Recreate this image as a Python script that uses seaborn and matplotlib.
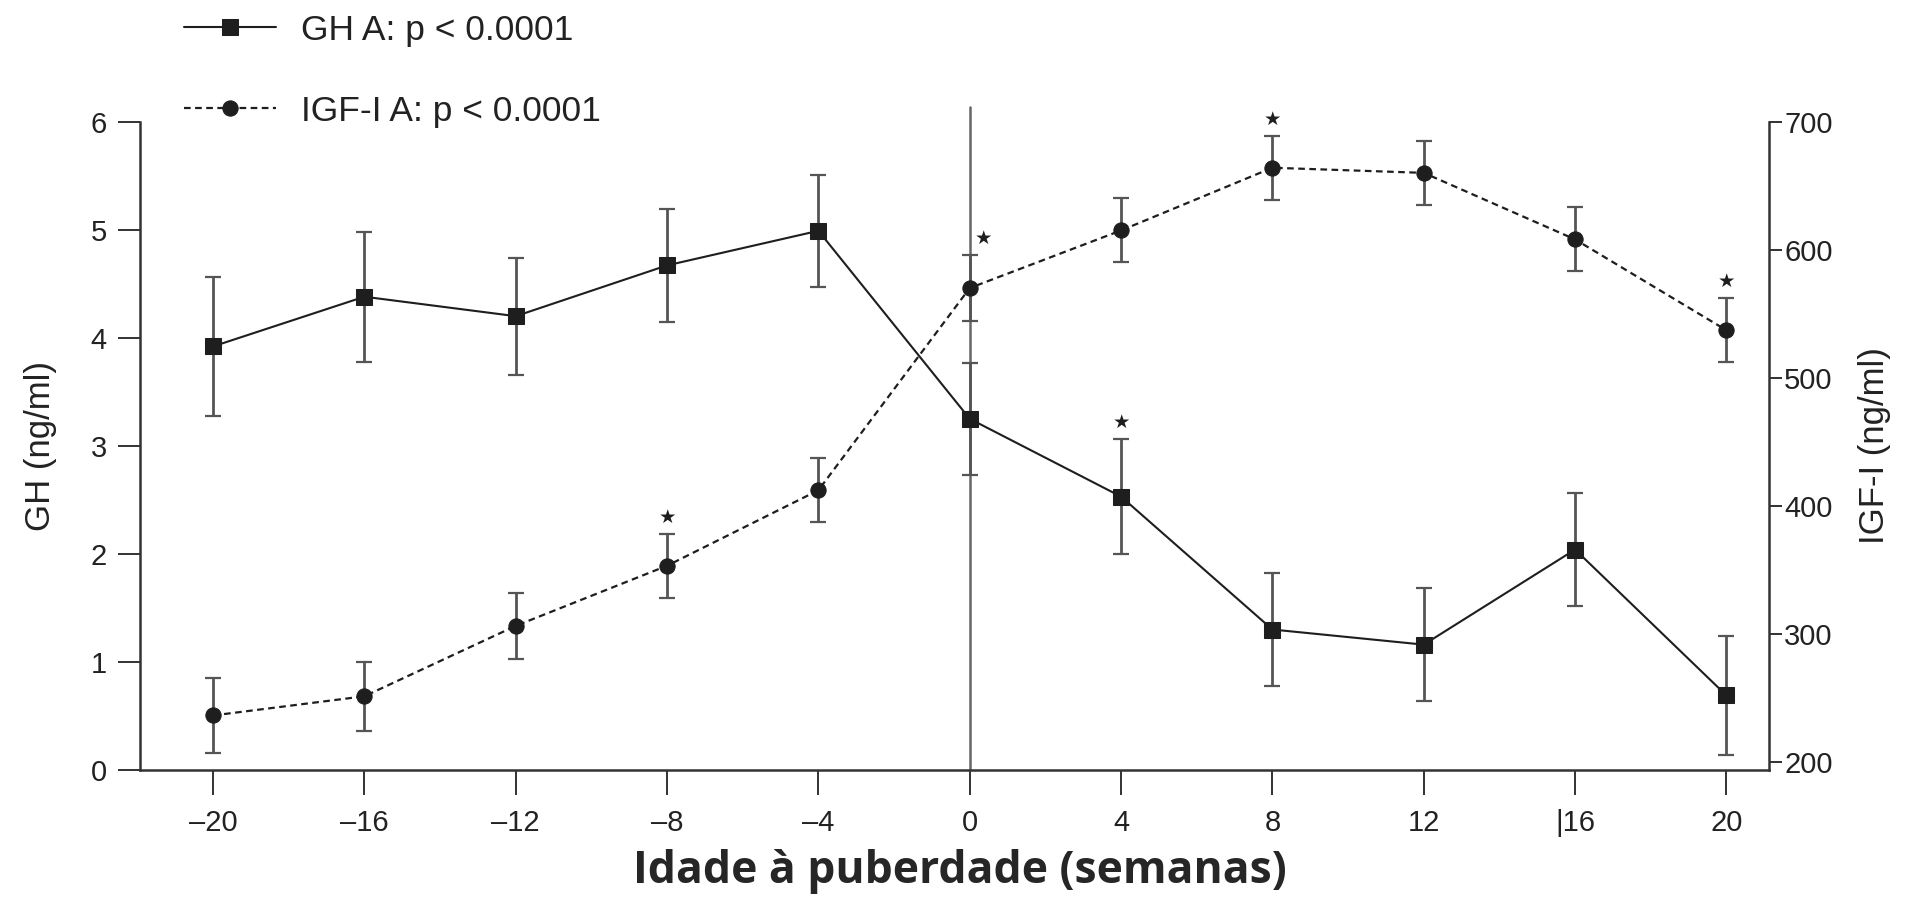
import numpy as np
import pandas as pd
import seaborn as sns
import matplotlib.pyplot as plt

sns.set_style("ticks")
plt.rcParams["font.family"] = ["Liberation Sans", "DejaVu Sans"]

# data
weeks = [-20, -16, -12, -8, -4, 0, 4, 8, 12, 16, 20]
gh_mean = [3.92, 4.38, 4.20, 4.67, 4.99, 3.25, 2.53, 1.30, 1.16, 2.04, 0.69]
gh_err = [0.64, 0.60, 0.54, 0.52, 0.52, 0.52, 0.53, 0.52, 0.52, 0.52, 0.55]
igf_mean = [236, 251, 306, 353, 412, 570, 615, 664, 660, 608, 537]
igf_err = [29, 27, 26, 25, 25, 26, 25, 25, 25, 25, 25]
gh_star_weeks = [4]
igf_star_weeks = [-8, 0, 8, 20]
tick_labels = ["\u201320", "\u201316", "\u201312", "\u20138", "\u20134", "0", "4", "8", "12", "|16", "20"]

df = pd.DataFrame({"week": weeks, "gh": gh_mean, "gh_err": gh_err,
                   "igf": igf_mean, "igf_err": igf_err})

fig = plt.figure(figsize=(19.05, 9.08), dpi=100)
ax = fig.add_axes([0.0735, 0.152, 0.855, 0.714])
ax2 = ax.twinx()

line_col = "#1e1e1e"
err_col = "#555555"

# vertical reference line at puberty
ax.axvline(0, ymin=0, ymax=1.022, color="#666666", lw=1.8, clip_on=False, zorder=1)

# GH
ax.errorbar(df["week"], df["gh"], yerr=df["gh_err"], fmt="none", ecolor=err_col,
            elinewidth=2.0, capsize=6, capthick=1.6, zorder=2)
sns.lineplot(data=df, x="week", y="gh", ax=ax, color=line_col, lw=1.5,
             marker="s", markersize=11.5, markeredgecolor=line_col, zorder=3,
             label="GH A: p < 0.0001", legend=False)

# IGF-I
ax2.errorbar(df["week"], df["igf"], yerr=df["igf_err"], fmt="none", ecolor=err_col,
             elinewidth=2.0, capsize=6, capthick=1.6, zorder=2)
sns.lineplot(data=df, x="week", y="igf", ax=ax2, color=line_col, lw=1.6,
             linestyle=(0, (3, 2)), marker="o", markersize=11,
             markeredgecolor=line_col, zorder=3,
             label="IGF-I A: p < 0.0001", legend=False)

# significance stars
for w in gh_star_weeks:
    r = df[df["week"] == w].iloc[0]
    ax.annotate("\u2605", (w, r["gh"] + r["gh_err"]), xytext=(0, 12),
                textcoords="offset points", ha="center", va="center",
                fontsize=14, family="DejaVu Sans", color=line_col)
for w in igf_star_weeks:
    r = df[df["week"] == w].iloc[0]
    dx = 10 if w == 0 else 0
    ax2.annotate("\u2605", (w, r["igf"] + r["igf_err"]), xytext=(dx, 12),
                 textcoords="offset points", ha="center", va="center",
                 fontsize=14, family="DejaVu Sans", color=line_col)

ax.set_xlim(-21.93, 21.12)
ax.set_ylim(0, 6)
ax2.set_ylim(193.4, 700)
ax.set_xticks(weeks)
ax.set_xticklabels(tick_labels)
ax.set_yticks(range(0, 7))
ax2.set_yticks(range(200, 701, 100))

for a in (ax, ax2):
    a.spines["top"].set_visible(False)
    for s in a.spines.values():
        s.set_color("#333333")
        s.set_linewidth(1.8)
ax.spines["right"].set_visible(False)
ax2.spines["left"].set_visible(False)
ax2.spines["bottom"].set_visible(False)

ax.tick_params(axis="x", length=18, width=1.3, colors="#222222", labelsize=21, pad=10)
ax.tick_params(axis="y", length=16, width=1.3, colors="#222222", labelsize=21, pad=8)
ax2.tick_params(axis="y", length=9, width=1.3, colors="#222222", labelsize=21, pad=2)

ax.set_xlabel("")
ax.set_ylabel("GH (ng/ml)", fontsize=25, color="#222222", labelpad=24)
ax2.set_ylabel("IGF-I (ng/ml)", fontsize=25, color="#222222", labelpad=18)

fig.text(0.504, 1 - 872 / 908, "Idade \u00e0 puberdade (semanas)",
         ha="center", va="center", fontsize=32, fontweight="bold",
         family=["Open Sans", "DejaVu Sans"])

h1, l1 = ax.get_legend_handles_labels()
h2, l2 = ax2.get_legend_handles_labels()
fig.legend(h1 + h2, l1 + l2, loc="upper left", bbox_to_anchor=(0.0835, 1.012),
           frameon=False, fontsize=25.5, handlelength=2.6, handletextpad=0.7,
           labelspacing=1.35, borderpad=0.2, labelcolor="#222222")

fig.savefig("out.png", dpi=100)
